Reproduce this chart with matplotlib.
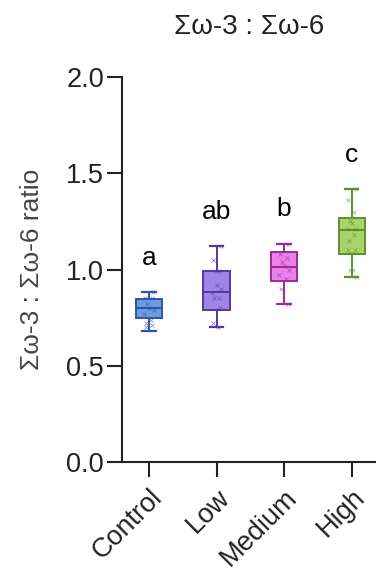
import numpy as np
import matplotlib
matplotlib.use("Agg")
import matplotlib.pyplot as plt

plt.rcParams['font.family'] = ['Liberation Sans', 'DejaVu Sans']

# group names and box summary values
groups = ['Control', 'Low', 'Medium', 'High']
whis_lo = [0.68, 0.70, 0.82, 0.96]
q1 = [0.75, 0.79, 0.94, 1.08]
median = [0.80, 0.885, 1.015, 1.205]
q3 = [0.845, 0.99, 1.09, 1.265]
whis_hi = [0.885, 1.12, 1.135, 1.42]
letters = ['a', 'ab', 'b', 'c']

# individual points per group
pts_control = [0.885, 0.85, 0.85, 0.82, 0.80, 0.79, 0.77, 0.74, 0.72, 0.71, 0.70]
pts_low = [1.12, 1.05, 0.99, 0.99, 0.92, 0.90, 0.88, 0.85, 0.85, 0.80, 0.72, 0.70]
pts_medium = [1.135, 1.08, 1.06, 1.04, 1.02, 1.00, 0.97, 0.95, 0.90, 0.82]
pts_high = [1.42, 1.36, 1.30, 1.25, 1.24, 1.21, 1.21, 1.18, 1.15, 1.10, 1.10, 1.00, 1.00, 0.96]

fills = ['#6f9ae0', '#9f85e6', '#ea80ea', '#a6d36a']
edges = ['#2f55a5', '#55389c', '#9a2a9a', '#5e8f2e']
jitter = [0.06, -0.06, 0.04, -0.03, 0.0, 0.07, -0.07, 0.03, -0.04, 0.05, -0.05, 0.02, -0.02, 0.06]

fig = plt.figure(figsize=(3.76, 5.73), dpi=100)
ax = fig.add_axes([0.3245, 0.1937, 0.6755, 0.6719])

stats = []
for i in range(len(groups)):
    stats.append(dict(med=median[i], q1=q1[i], q3=q3[i],
                      whislo=whis_lo[i], whishi=whis_hi[i], fliers=[]))

pos = np.arange(len(groups))
for i, s in enumerate(stats):
    ax.bxp([s], positions=[pos[i]], widths=0.39, capwidths=0.2,
           patch_artist=True, showfliers=False,
           boxprops=dict(facecolor=fills[i], edgecolor=edges[i], linewidth=1.4),
           medianprops=dict(color=edges[i], linewidth=1.4),
           whiskerprops=dict(color=edges[i], linewidth=1.4),
           capprops=dict(color=edges[i], linewidth=1.6))

all_pts = [pts_control, pts_low, pts_medium, pts_high]
for i, p in enumerate(all_pts):
    xs = pos[i] + np.array(jitter[:len(p)])
    ax.scatter(xs, p, marker='x', s=8, color=edges[i], linewidths=0.6, alpha=0.6, zorder=4)
    ax.text(pos[i], whis_hi[i] + 0.115, letters[i], ha='center', va='bottom', fontsize=19)

ax.set_xlim(-0.4, 3.36)
ax.set_ylim(0, 2.0)
ax.set_yticks([0.0, 0.5, 1.0, 1.5, 2.0])
ax.set_yticklabels(['0.0', '0.5', '1.0', '1.5', '2.0'])
ax.set_xticks(pos)
ax.set_xticklabels(groups, rotation=45, ha='right', rotation_mode='anchor')

for sp in ['top', 'right']:
    ax.spines[sp].set_visible(False)
for sp in ['left', 'bottom']:
    ax.spines[sp].set_linewidth(1.5)
    ax.spines[sp].set_color('#222222')
ax.tick_params(axis='both', length=11, width=1.5, color='#222222',
               labelsize=19.5, pad=2, labelcolor='#222222')
ax.tick_params(axis='x', pad=5)

ax.set_ylabel('Σω-3 : Σω-6 ratio', fontsize=19, color='#444444', labelpad=16)
ax.set_title('Σω-3 : Σω-6', fontsize=20, pad=31, color='#222222')

fig.savefig('out.png', dpi=100)
